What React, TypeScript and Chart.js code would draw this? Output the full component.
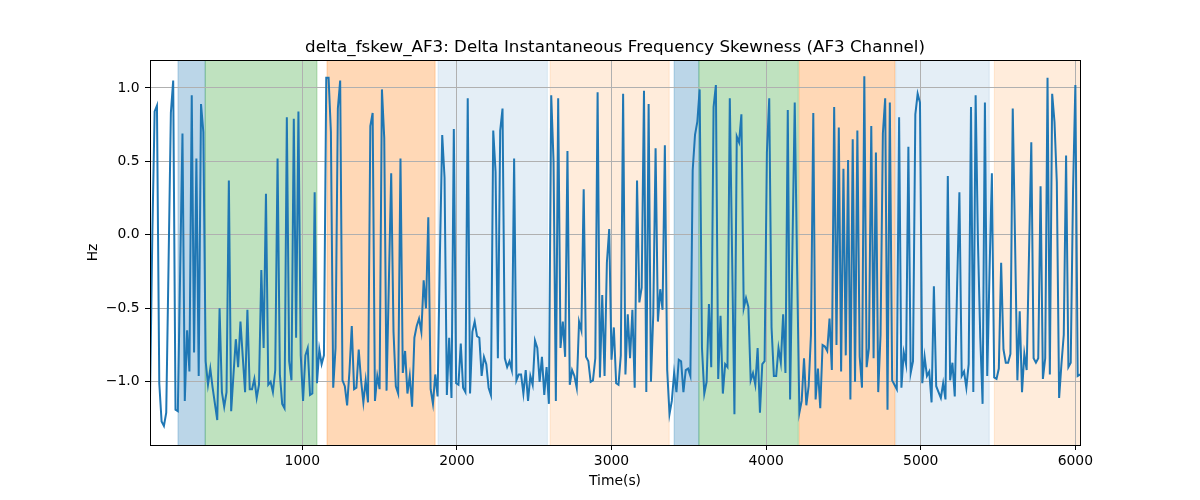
import React, { useEffect, useRef } from "react";
import { Chart, registerables } from "chart.js";

Chart.register(...registerables);

const TITLE = "delta_fskew_AF3: Delta Instantaneous Frequency Skewness (AF3 Channel)";
const X_LABEL = "Time(s)";
const Y_LABEL = "Hz";

const times: number[] = [
  15, 30, 45, 60, 75, 90, 105, 120, 135, 150,
  165, 180, 195, 210, 225, 240, 255, 270, 285, 300,
  315, 330, 345, 360, 375, 390, 405, 420, 435, 450,
  465, 480, 495, 510, 525, 540, 555, 570, 585, 600,
  615, 630, 645, 660, 675, 690, 705, 720, 735, 750,
  765, 780, 795, 810, 825, 840, 855, 870, 885, 900,
  915, 930, 945, 960, 975, 990, 1005, 1020, 1035, 1050,
  1065, 1080, 1095, 1110, 1125, 1140, 1155, 1170, 1185, 1200,
  1215, 1230, 1245, 1260, 1275, 1290, 1305, 1320, 1335, 1350,
  1365, 1380, 1395, 1410, 1425, 1440, 1455, 1470, 1485, 1500,
  1515, 1530, 1545, 1560, 1575, 1590, 1605, 1620, 1635, 1650,
  1665, 1680, 1695, 1710, 1725, 1740, 1755, 1770, 1785, 1800,
  1815, 1830, 1845, 1860, 1875, 1890, 1905, 1920, 1935, 1950,
  1965, 1980, 1995, 2010, 2025, 2040, 2055, 2070, 2085, 2100,
  2115, 2130, 2145, 2160, 2175, 2190, 2205, 2220, 2235, 2250,
  2265, 2280, 2295, 2310, 2325, 2340, 2355, 2370, 2385, 2400,
  2415, 2430, 2445, 2460, 2475, 2490, 2505, 2520, 2535, 2550,
  2565, 2580, 2595, 2610, 2625, 2640, 2655, 2670, 2685, 2700,
  2715, 2730, 2745, 2760, 2775, 2790, 2805, 2820, 2835, 2850,
  2865, 2880, 2895, 2910, 2925, 2940, 2955, 2970, 2985, 3000,
  3015, 3030, 3045, 3060, 3075, 3090, 3105, 3120, 3135, 3150,
  3165, 3180, 3195, 3210, 3225, 3240, 3255, 3270, 3285, 3300,
  3315, 3330, 3345, 3360, 3375, 3390, 3405, 3420, 3435, 3450,
  3465, 3480, 3495, 3510, 3525, 3540, 3555, 3570, 3585, 3600,
  3615, 3630, 3645, 3660, 3675, 3690, 3705, 3720, 3735, 3750,
  3765, 3780, 3795, 3810, 3825, 3840, 3855, 3870, 3885, 3900,
  3915, 3930, 3945, 3960, 3975, 3990, 4005, 4020, 4035, 4050,
  4065, 4080, 4095, 4110, 4125, 4140, 4155, 4170, 4185, 4200,
  4215, 4230, 4245, 4260, 4275, 4290, 4305, 4320, 4335, 4350,
  4365, 4380, 4395, 4410, 4425, 4440, 4455, 4470, 4485, 4500,
  4515, 4530, 4545, 4560, 4575, 4590, 4605, 4620, 4635, 4650,
  4665, 4680, 4695, 4710, 4725, 4740, 4755, 4770, 4785, 4800,
  4815, 4830, 4845, 4860, 4875, 4890, 4905, 4920, 4935, 4950,
  4965, 4980, 4995, 5010, 5025, 5040, 5055, 5070, 5085, 5100,
  5115, 5130, 5145, 5160, 5175, 5190, 5205, 5220, 5235, 5250,
  5265, 5280, 5295, 5310, 5325, 5340, 5355, 5370, 5385, 5400,
  5415, 5430, 5445, 5460, 5475, 5490, 5505, 5520, 5535, 5550,
  5565, 5580, 5595, 5610, 5625, 5640, 5655, 5670, 5685, 5700,
  5715, 5730, 5745, 5760, 5775, 5790, 5805, 5820, 5835, 5850,
  5865, 5880, 5895, 5910, 5925, 5940, 5955, 5970, 5985, 6000,
  6015, 6030,
];

const values: number[] = [
  -1.11, 0.0, 0.84, 0.88, -1.01, -1.27, -1.30, -1.21, -0.2, 0.83,
  1.05, -1.19, -1.20, -0.25, 0.69, -1.13, -0.65, -0.93, 0.95, -0.80,
  0.52, -0.96, 0.89, 0.70, -0.86, -1.02, -0.91, -1.04, -1.15, -1.26,
  -0.50, -1.07, -1.17, -1.07, 0.37, -1.20, -0.95, -0.71, -0.90, -0.59,
  -0.83, -1.07, -0.51, -1.05, -1.05, -0.98, -1.11, -1.02, -0.24, -0.77,
  0.28, -1.02, -1.00, -1.07, -0.92, 0.52, -0.95, -1.15, -1.18, 0.80,
  -0.86, -0.99, 0.79, -0.70, 0.84, -0.82, -1.13, -0.82, -0.77, -1.09,
  -1.08, 0.29, -1.01, -0.78, -0.88, -0.82, 1.07, 1.07, 0.70, -1.04,
  -0.77, 0.86, 1.05, -0.99, -1.03, -1.16, -0.93, -0.62, -1.05, -1.04,
  -0.78, -0.99, -1.14, -0.99, -1.14, 0.74, 0.83, -1.13, -0.96, -1.05,
  0.99, 0.66, -1.06, -0.32, 0.42, -0.66, -1.03, -1.08, 0.52, -0.94,
  -0.79, -1.08, -0.96, -1.17, -0.70, -0.62, -0.57, -0.66, -0.31, -0.50,
  0.12, -1.05, -1.15, -0.95, -1.10, -0.14, 0.68, 0.39, -1.09, -0.70,
  -1.11, 0.72, -1.01, -1.02, -0.74, -1.04, -1.07, 0.93, -1.08, -0.66,
  -0.59, -0.69, -0.70, -0.96, -0.83, -0.88, -1.04, -1.09, 0.71, 0.43,
  -0.84, 0.71, 0.86, -0.84, -0.90, -0.86, -0.92, 0.52, -0.99, -0.95,
  -0.95, -1.08, -0.92, -1.13, -0.96, -1.02, -0.72, -0.77, -1.00, -0.83,
  -1.09, -0.90, -1.15, 0.95, 0.5, -1.13, 0.93, -0.77, -0.59, -0.83,
  0.57, -1.02, -0.92, -0.96, -1.04, -0.59, -0.65, 0.31, -0.83, -0.86,
  -1.00, -0.99, -0.84, 0.97, -0.97, -0.41, -0.96, -0.19, 0.04, -0.85,
  -0.63, -1.01, -1.02, -0.82, 0.96, -0.95, -0.54, -0.84, -0.51, -1.04,
  0.37, -0.46, -0.36, 0.98, -1.07, 0.89, -1.00, -0.54, 0.59, -0.59,
  -0.37, -0.51, 0.61, -0.92, -1.22, -1.13, -0.94, -1.07, -0.85, -0.86,
  -1.07, -0.92, -0.91, -0.96, 0.44, 0.68, 0.77, 0.99, -0.77, -1.08,
  -1.00, -0.47, -0.90, 0.87, 1.02, -0.98, -0.55, -1.08, -0.88, -0.90,
  0.93, -0.15, -1.22, 0.67, 0.63, 0.82, -0.50, -0.43, -0.49, -0.99,
  -0.94, -1.02, -0.77, -1.21, -0.88, -0.86, 0.56, 0.93, -0.63, -0.96,
  -0.96, -0.77, -0.87, -0.54, -0.94, 0.85, -1.12, -0.1, 0.90, -0.2,
  -1.21, -1.13, -0.84, -1.16, -1.03, -0.68, 0.83, -1.12, -0.91, -1.18,
  -0.75, -0.76, -0.79, -0.57, -0.92, 0.87, -0.75, 0.73, -0.93, 0.45,
  -0.82, 0.51, -1.12, 0.65, -1.00, 0.71, -0.83, -1.04, 1.08, -0.90,
  -0.77, 0.74, -0.84, 0.56, -1.07, -0.68, 0.69, 0.93, -1.19, 0.90,
  -0.99, -1.02, -1.05, 0.80, -1.04, -0.80, -0.88, 0.60, -0.94, -0.86,
  0.82, 0.96, 0.90, -1.01, -0.83, -0.96, -0.93, -1.14, -0.35, -1.03,
  -1.07, -1.11, -1.01, -1.12, 0.40, -0.99, -0.87, -1.10, -0.36, 0.29,
  -0.96, -0.93, -1.04, -0.88, 0.87, -1.07, 0.95, -0.05, -0.70, -1.15,
  0.90, -0.96, -0.25, 0.42, -0.97, -0.98, -0.91, -0.19, -0.78, -0.87,
  -0.87, -0.81, 0.86, -0.05, -0.99, -0.52, -1.07, -0.81, -0.92, -0.14,
  0.63, -0.84, -0.87, -0.84, 0.33, -0.98, -0.84, 1.07, -0.95, 0.96,
  0.77, 0.36, -1.11, -0.88, -0.68, 0.54, -0.90, -0.87, 0.3, 1.02,
  -0.96, -0.95,
];

const xTicks: number[] = [1000, 2000, 3000, 4000, 5000, 6000];
const yTicks: number[] = [-1.0, -0.5, 0.0, 0.5, 1.0];

const X_MIN = 15;
const X_MAX = 6030;
const Y_MIN = -1.43;
const Y_MAX = 1.19;

// background phase bands (time ranges)
const spanStarts: number[] = [196, 372, 1160, 1878, 2603, 3405, 3565, 4214, 4838, 5476];
const spanEnds: number[] = [372, 1095, 1859, 2585, 3373, 3565, 4208, 4833, 5443, 6040];
const spanColors: string[] = [
  "rgba(31,119,180,0.3)",
  "rgba(44,160,44,0.3)",
  "rgba(255,127,14,0.3)",
  "rgba(31,119,180,0.12)",
  "rgba(255,127,14,0.15)",
  "rgba(31,119,180,0.3)",
  "rgba(44,160,44,0.3)",
  "rgba(255,127,14,0.3)",
  "rgba(31,119,180,0.12)",
  "rgba(255,127,14,0.15)",
];

const FONT = "'DejaVu Sans', 'Liberation Sans', sans-serif";

const spansPlugin = {
  id: "spans",
  beforeDraw(chart: any) {
    const { ctx, chartArea: a, scales } = chart;
    const x = scales.x;
    ctx.save();
    ctx.beginPath();
    ctx.rect(a.left, a.top, a.right - a.left, a.bottom - a.top);
    ctx.clip();
    spanStarts.forEach((s, i) => {
      const x0 = x.getPixelForValue(s);
      const x1 = x.getPixelForValue(spanEnds[i]);
      ctx.fillStyle = spanColors[i];
      ctx.fillRect(x0, a.top, x1 - x0, a.bottom - a.top);
      ctx.strokeStyle = spanColors[i];
      ctx.lineWidth = 1;
      ctx.strokeRect(x0, a.top - 2, x1 - x0, a.bottom - a.top + 4);
    });
    ctx.restore();
  },
};

const framePlugin = {
  id: "frame",
  afterDraw(chart: any) {
    const { ctx, chartArea: a } = chart;
    ctx.save();
    ctx.strokeStyle = "#000";
    ctx.lineWidth = 1;
    ctx.strokeRect(Math.round(a.left) + 0.5, Math.round(a.top) + 0.5, Math.round(a.right - a.left), Math.round(a.bottom - a.top));
    ctx.fillStyle = "#000";
    const cx = (a.left + a.right) / 2;
    ctx.textAlign = "center";
    ctx.textBaseline = "alphabetic";
    ctx.font = `16.7px ${FONT}`;
    ctx.fillText(TITLE, cx, 52);
    ctx.font = `13.9px ${FONT}`;
    ctx.textBaseline = "middle";
    ctx.fillText(X_LABEL, cx, 481);
    ctx.translate(93, (a.top + a.bottom) / 2);
    ctx.rotate(-Math.PI / 2);
    ctx.fillText(Y_LABEL, 0, 0);
    ctx.restore();
  },
};

const fmt = (v: number) => {
  const s = v.toFixed(1);
  return s.startsWith("-") ? "\u2212" + s.slice(1) : s;
};

export default function App() {
  const canvasRef = useRef<HTMLCanvasElement | null>(null);

  useEffect(() => {
    const canvas = canvasRef.current;
    if (!canvas) return;
    const chart = new Chart(canvas, {
      type: "line",
      data: {
        datasets: [
          {
            data: times.map((t, i) => ({ x: t, y: values[i] })),
            borderColor: "#1f77b4",
            borderWidth: 2,
            pointRadius: 0,
            tension: 0,
            fill: false,
          },
        ],
      },
      options: {
        responsive: false,
        animation: false,
        events: [],
        layout: { padding: { top: 60, right: 120, bottom: 0, left: 0 } },
        plugins: {
          legend: { display: false },
          title: { display: false },
          tooltip: { enabled: false },
        },
        scales: {
          x: {
            type: "linear",
            min: X_MIN,
            max: X_MAX,
            afterBuildTicks: (scale: any) => {
              scale.ticks = xTicks.map((v) => ({ value: v }));
            },
            afterFit: (scale: any) => {
              scale.height = 55;
            },
            grid: {
              color: "#b0b0b0",
              lineWidth: 1,
              drawTicks: true,
              tickLength: 5,
              tickColor: "#000",
            },
            border: { display: false },
            ticks: {
              color: "#000",
              font: { family: FONT, size: 13.9 },
              padding: 3,
              maxRotation: 0,
              callback: (v: any) => String(v),
            },
          },
          y: {
            type: "linear",
            min: Y_MIN,
            max: Y_MAX,
            afterBuildTicks: (scale: any) => {
              scale.ticks = yTicks.map((v) => ({ value: v }));
            },
            afterFit: (scale: any) => {
              scale.width = 150;
            },
            grid: {
              color: "#b0b0b0",
              lineWidth: 1,
              drawTicks: true,
              tickLength: 5,
              tickColor: "#000",
            },
            border: { display: false },
            ticks: {
              color: "#000",
              font: { family: FONT, size: 13.9 },
              padding: 5.5,
              callback: (v: any) => fmt(Number(v)),
            },
          },
        },
      },
      plugins: [spansPlugin, framePlugin],
    });
    return () => chart.destroy();
  }, []);

  return (
    <div style={{ position: "fixed", left: 0, top: 0, width: 1200, height: 500, background: "#fff" }}>
      <canvas ref={canvasRef} width={1200} height={500} style={{ width: 1200, height: 500 }} />
    </div>
  );
}
